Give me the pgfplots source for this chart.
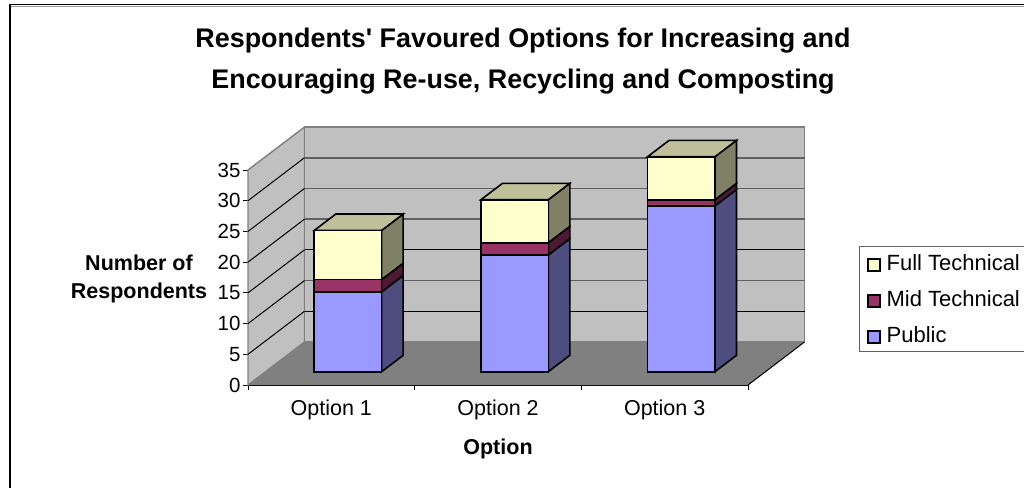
\documentclass[border=0pt]{standalone}
\usepackage{fontspec}
\setmainfont{Liberation Sans}
\usepackage{pgfplots}
\pgfplotsset{compat=1.18}
\definecolor{wall}{HTML}{C0C0C0}
\definecolor{flr}{HTML}{808080}
\definecolor{gridg}{HTML}{606060}
\definecolor{pubF}{HTML}{9999FF}
\definecolor{pubS}{HTML}{4D4D80}
\definecolor{midF}{HTML}{993366}
\definecolor{midS}{HTML}{4D1933}
\definecolor{fulF}{HTML}{FFFFCC}
\definecolor{fulS}{HTML}{808066}
\definecolor{topF}{HTML}{BFBF99}
\newcommand{\tickfont}{\fontsize{21.5}{24}\selectfont}
\newcommand{\ytickfont}{\fontsize{20.5}{24}\selectfont}
\newcommand{\legfont}{\fontsize{22}{24}\selectfont}
\newcommand{\labfont}{\fontsize{21.5}{28}\selectfont\bfseries}
\newcommand{\titfont}{\fontsize{26.9}{41}\selectfont\bfseries}
\pgfplotsset{
  frameaxis/.style={scale only axis,width=500pt,height=215pt,xmin=0,xmax=3,ymin=0,ymax=35,clip=false,anchor=south west},
  gl/.style={line width=1.6pt,color=gridg,forget plot},
  gb/.style={line width=1pt,color=black,forget plot},
  face/.style={draw=black,line width=1.6pt,line join=miter,forget plot},
}
\begin{document}
\begin{tikzpicture}[x=1pt,y=1pt]
\useasboundingbox (0,0) rectangle (1024,-488);
\draw[color=gridg!60,line width=1pt] (10,-6) -- (1024,-6);
\draw[black,line width=1.6pt] (10,-488) -- (10,-4.5) -- (1024,-4.5);
% frame, walls, floor, ticks
\begin{axis}[frameaxis,at={(248pt,-385pt)},
  axis lines=left,axis line style={-,line width=1pt},
  tick align=outside,
  ytick={0,5,10,15,20,25,30,35},
  xtick={0.5,1.5,2.5},xticklabels={Option 1,Option 2,Option 3},
  minor xtick={0,1,2,3},
  major tick length=5pt,
  x tick style={draw=none},
  minor x tick style={draw=black,line width=1pt},
  minor tick length=5pt,
  y tick style={black,line width=1pt},
  /pgf/number format/assume math mode=true,
  xticklabel style={font=\tickfont,yshift=-6pt},
  yticklabel style={font=\ytickfont,xshift=1pt},
  title={Respondents\textquotesingle{} Favoured Options for Increasing and\\Encouraging Re-use, Recycling and Composting},
  title style={font=\titfont,align=center,at={(axis description cs:0.5500,1.480)},anchor=center},
  xlabel={Option},
  xlabel style={font=\labfont,at={(axis description cs:0.5,-0.298)},anchor=center},
  ylabel={Number of\\Respondents},
  ylabel style={font=\labfont,align=center,rotate=-90,at={(axis description cs:-0.218,0.494)},anchor=center},
]
\addplot[fill=wall,draw=flr,line width=1.4pt,forget plot] coordinates {(0,0) (0.339,7) (0.339,42) (0,35)} --cycle;
\addplot[fill=wall,draw=flr,line width=1.4pt,forget plot] coordinates {(0.339,7) (3.339,7) (3.339,42) (0.339,42)} --cycle;
\addplot[fill=flr,draw=none,forget plot] coordinates {(0,0) (3,0) (3.339,7) (0.339,7)} --cycle;
% gridlines on the left wall
\addplot[gb] coordinates {(0,5) (0.339,12)};
\addplot[gb] coordinates {(0,10) (0.339,17)};
\addplot[gb] coordinates {(0,15) (0.339,22)};
\addplot[gb] coordinates {(0,20) (0.339,27)};
\addplot[gb] coordinates {(0,25) (0.339,32)};
\addplot[gb] coordinates {(0,30) (0.339,37)};
% gridlines on the back wall
\addplot[gb] coordinates {(0.339,12) (3.339,12)};
\addplot[gl] coordinates {(0.339,17) (3.339,17)};
\addplot[gb] coordinates {(0.339,22) (3.339,22)};
\addplot[gl] coordinates {(0.339,27) (3.339,27)};
\addplot[gl] coordinates {(0.339,32) (3.339,32)};
\addplot[gl] coordinates {(0.339,37) (3.339,37)};
% floor edge
\addplot[gb] coordinates {(3,0) (3.339,7)};
\end{axis}
% side and top faces of the bars
\begin{axis}[frameaxis,hide axis,at={(264.6pt,-371.7pt)}]
\addplot[face,fill=pubS] coordinates {(0.702,0) (0.8315,2.67) (0.8315,15.67) (0.702,13)} --cycle;
\addplot[face,fill=midS] coordinates {(0.702,13) (0.8315,15.67) (0.8315,17.67) (0.702,15)} --cycle;
\addplot[face,fill=fulS] coordinates {(0.702,15) (0.8315,17.67) (0.8315,25.67) (0.702,23)} --cycle;
\addplot[face,fill=topF] coordinates {(0.298,23) (0.702,23) (0.8315,25.67) (0.4275,25.67)} --cycle;
\addplot[face,fill=pubS] coordinates {(1.702,0) (1.8315,2.67) (1.8315,21.67) (1.702,19)} --cycle;
\addplot[face,fill=midS] coordinates {(1.702,19) (1.8315,21.67) (1.8315,23.67) (1.702,21)} --cycle;
\addplot[face,fill=fulS] coordinates {(1.702,21) (1.8315,23.67) (1.8315,30.67) (1.702,28)} --cycle;
\addplot[face,fill=topF] coordinates {(1.298,28) (1.702,28) (1.8315,30.67) (1.4275,30.67)} --cycle;
\addplot[face,fill=pubS] coordinates {(2.702,0) (2.8315,2.67) (2.8315,29.67) (2.702,27)} --cycle;
\addplot[face,fill=midS] coordinates {(2.702,27) (2.8315,29.67) (2.8315,30.67) (2.702,28)} --cycle;
\addplot[face,fill=fulS] coordinates {(2.702,28) (2.8315,30.67) (2.8315,37.67) (2.702,35)} --cycle;
\addplot[face,fill=topF] coordinates {(2.298,35) (2.702,35) (2.8315,37.67) (2.4275,37.67)} --cycle;
\end{axis}
% front faces of the stacked bars
\begin{axis}[frameaxis,hide axis,at={(264.6pt,-371.7pt)},
  ybar stacked,bar width=67.4pt,
  reverse legend,
  legend cell align=left,
  legend style={at={(axis description cs:1.188,0.586)},anchor=north west,
    draw=gridg,line width=1.2pt,font=\legfont,
    inner xsep=8pt,inner ysep=6pt,row sep=14.5pt,
    /tikz/every odd column/.append style={column sep=4pt}},
  legend image code/.code={\draw[#1,line width=1.4pt] (0pt,-8pt) rectangle (12pt,4pt);},
]
\addplot[draw=black,line width=1.6pt,fill=pubF] coordinates {(0.5,13) (1.5,19) (2.5,27)};
\addplot[draw=black,line width=1.6pt,fill=midF] coordinates {(0.5,2) (1.5,2) (2.5,1)};
\addplot[draw=black,line width=1.6pt,fill=fulF] coordinates {(0.5,8) (1.5,7) (2.5,7)};
\legend{Public,Mid Technical,Full Technical}
\end{axis}
\end{tikzpicture}
\end{document}
